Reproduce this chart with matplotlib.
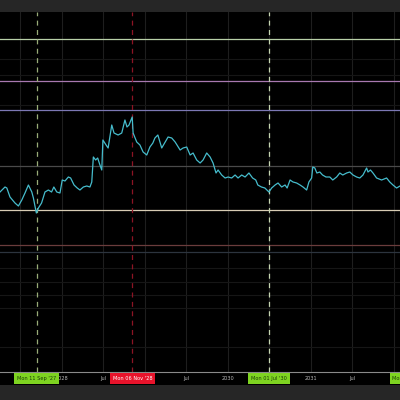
import matplotlib
matplotlib.use('Agg')
import matplotlib.pyplot as plt
import matplotlib.patches as patches
import matplotlib.transforms as mtransforms
import pandas as pd

# ── 数据（从图上读出的近似值，单位为任意价格刻度）──────────────
dates = [
    '2027-04-03', '2027-04-25', '2027-05-03', '2027-05-17', '2027-06-08', '2027-06-23',
    '2027-07-08', '2027-07-22', '2027-08-06', '2027-08-21', '2027-08-28', '2027-09-10',
    '2027-09-19', '2027-10-03', '2027-10-18', '2027-11-02', '2027-11-16', '2027-11-26',
    '2027-12-09', '2027-12-23', '2028-01-02', '2028-01-14', '2028-01-29', '2028-02-08',
    '2028-02-23', '2028-03-08', '2028-03-20', '2028-04-04', '2028-04-19', '2028-05-03',
    '2028-05-11', '2028-05-18', '2028-05-28', '2028-06-06', '2028-06-16', '2028-06-24',
    '2028-06-29', '2028-07-13', '2028-07-22', '2028-08-07', '2028-08-17', '2028-09-04',
    '2028-09-20', '2028-10-04', '2028-10-13', '2028-10-22', '2028-11-05', '2028-11-09',
    '2028-11-25', '2028-12-09', '2028-12-23', '2029-01-08', '2029-01-22', '2029-02-04',
    '2029-02-13', '2029-02-26', '2029-03-15', '2029-03-30', '2029-04-12', '2029-04-28',
    '2029-05-13', '2029-06-04', '2029-06-17', '2029-07-03', '2029-07-18', '2029-07-31',
    '2029-08-16', '2029-08-31', '2029-09-13', '2029-09-29', '2029-10-14', '2029-10-27',
    '2029-11-09', '2029-11-18', '2029-12-04', '2029-12-19', '2030-01-01', '2030-01-17',
    '2030-02-01', '2030-02-14', '2030-03-02', '2030-03-17', '2030-04-03', '2030-04-19',
    '2030-05-03', '2030-05-12', '2030-05-28', '2030-06-12', '2030-06-30', '2030-07-12',
    '2030-07-27', '2030-08-09', '2030-08-25', '2030-09-09', '2030-09-18', '2030-10-01',
    '2030-10-14', '2030-10-30', '2030-11-14', '2030-11-27', '2030-12-13', '2030-12-23',
    '2031-01-04', '2031-01-09', '2031-01-18', '2031-01-27', '2031-02-09', '2031-02-21',
    '2031-03-08', '2031-03-25', '2031-04-07', '2031-04-24', '2031-05-08', '2031-05-21',
    '2031-06-07', '2031-06-21', '2031-07-05', '2031-07-21', '2031-08-04', '2031-08-18',
    '2031-09-03', '2031-09-09', '2031-09-20', '2031-10-01', '2031-10-17', '2031-11-08',
    '2031-11-30', '2031-12-14', '2031-12-28', '2032-01-13', '2032-01-28',
]
prices = [
    180, 185, 184, 175, 169, 166, 172, 179, 187, 180, 174, 159,
    164, 169, 180, 182, 180, 185, 180, 179, 192, 191, 195, 194,
    187, 184, 182, 185, 186, 185, 190, 215, 212, 214, 207, 202,
    232, 227, 224, 247, 239, 237, 239, 252, 245, 247, 255, 239,
    230, 227, 220, 217, 225, 229, 234, 237, 224, 230, 235, 234,
    230, 222, 224, 225, 217, 219, 212, 209, 212, 219, 215, 209,
    199, 202, 197, 194, 195, 194, 197, 194, 197, 195, 199, 194,
    192, 187, 185, 184, 180, 184, 187, 189, 185, 187, 184, 192,
    190, 189, 187, 185, 182, 190, 194, 205, 204, 199, 200, 197,
    195, 195, 192, 195, 199, 197, 199, 200, 197, 195, 194, 197,
    204, 200, 202, 199, 194, 192, 194, 190, 187, 184, 186,
]

# 水平价位线（值, 颜色）
level_values = [333, 291, 262, 206, 162, 127, 120]
level_colors = ['#b8d0a8', '#a878b0', '#7c78b4', '#4a4a4a', '#d8ccb4', '#6a3c3c', '#2c343e']
grid_values = [313, 297, 267, 104, 90, 77, 64, 25]

# 坐标轴刻度（被日期标签框遮住的刻度不写文字）
tick_dates = ['2027-07-01', '2028-01-01', '2028-07-01', '2029-01-01', '2029-07-01',
              '2030-01-01', '2030-07-01', '2031-01-01', '2031-07-01', '2032-01-01']
tick_labels = ['', '2028', 'Jul', '', 'Jul', '2030', '', '2031', 'Jul', '']

# 垂直标记线与底部日期标签
marker_dates = ['2027-09-11', '2028-11-06', '2030-07-01', '2032-03-20']
marker_line_colors = ['#98ac78', '#8c1424', '#c4d4b0', '#98ac78']
marker_labels = ["Mon 11 Sep '27", "Mon 06 Nov '28", "Mon 01 Jul '30", "Mon 15 Mar '32"]
marker_box_colors = ['#7ed321', '#e8132b', '#7ed321', '#7ed321']
marker_text_colors = ['#1a3a08', '#ffffff', '#1a3a08', '#1a3a08']

# ──────────────────────────────────────────────────────────────────

fig = plt.figure(figsize=(4, 4), dpi=100, facecolor='#262626')
ax = fig.add_axes([0, 0.07, 1, 0.9])
ax.set_facecolor('#000000')

# 底部刻度标签的黑色条带
fig.patches.append(patches.Rectangle((0, 0.0375), 1, 0.0325, transform=fig.transFigure,
                                     facecolor='#000000', edgecolor='none', zorder=-1))

x = pd.to_datetime(dates)
ticks = pd.to_datetime(tick_dates)

ax.set_xlim(pd.Timestamp('2027-04-03'), pd.Timestamp('2032-01-28'))
ax.set_ylim(0, 360)

# 网格（很淡）
for t in ticks:
    ax.axvline(t, color='#1e1e1e', linewidth=0.8, zorder=0)
for g in grid_values:
    ax.axhline(g, color='#161616', linewidth=0.8, zorder=0)

for v, c in zip(level_values, level_colors):
    ax.axhline(v, color=c, linewidth=0.9, zorder=1)

ax.plot(x, prices, color='#46bccc', linewidth=0.9, zorder=3)

for d, c in zip(marker_dates, marker_line_colors):
    ax.axvline(pd.Timestamp(d), color=c, linewidth=0.9, linestyle=(0, (4, 3.5)), zorder=2)

ax.set_xticks(ticks)
ax.set_xticklabels(tick_labels)
ax.tick_params(axis='x', length=0, pad=3.2, labelsize=3.6, colors='#b8b8b8')
ax.set_yticks([])
for s in ['top', 'left', 'right']:
    ax.spines[s].set_visible(False)
ax.spines['bottom'].set_color('#8a8a8a')
ax.spines['bottom'].set_linewidth(0.8)

# 日期标签框
trans = mtransforms.blended_transform_factory(ax.transData, ax.transAxes)
for d, lab, bc, tc in zip(marker_dates, marker_labels, marker_box_colors, marker_text_colors):
    ax.text(pd.Timestamp(d), -0.0175, lab, transform=trans, ha='center', va='center',
            fontsize=3.6, color=tc, zorder=10, clip_on=False,
            bbox=dict(boxstyle='square,pad=0.55', fc=bc, ec='none'))

fig.savefig('out.png', dpi=100, facecolor=fig.get_facecolor())
